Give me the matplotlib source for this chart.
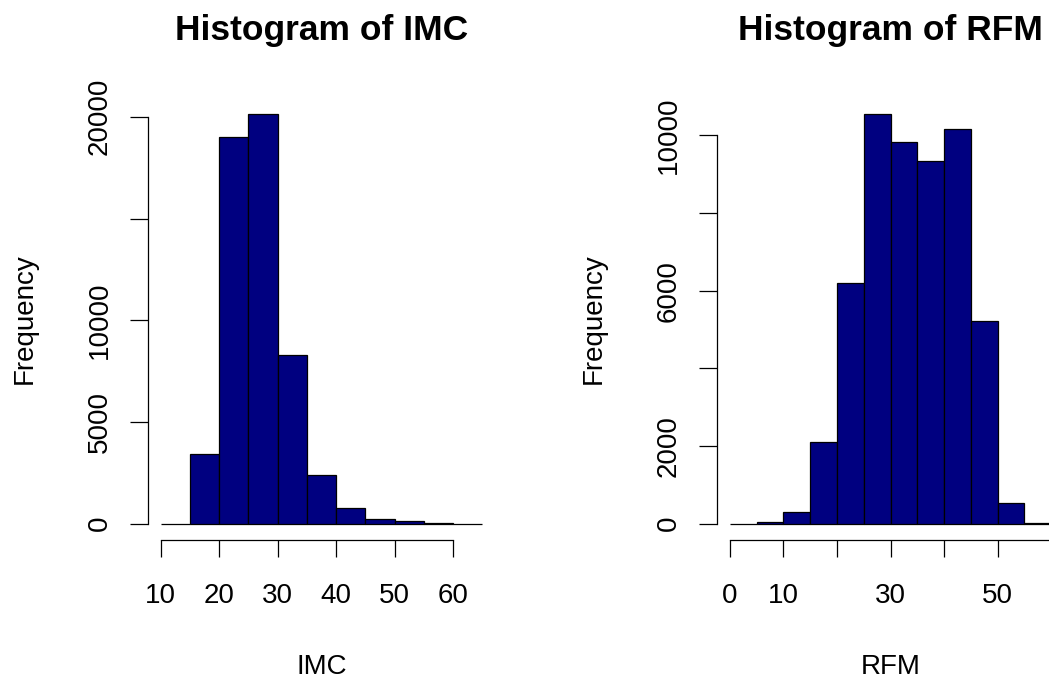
import matplotlib.pyplot as plt
import numpy as np

plt.rcParams['font.family'] = ['Liberation Sans', 'DejaVu Sans']

# histogram counts, bins of width 5
imc_start = 10
imc_counts = [0, 3410, 19000, 20120, 8280, 2410, 770, 210, 110, 20, 5]
imc_xticks = [10, 20, 30, 40, 50, 60]
imc_xlabels = ['10', '20', '30', '40', '50', '60']
imc_yticks = [0, 5000, 10000, 15000, 20000]
imc_ylabels = ['0', '5000', '10000', '', '20000']

rfm_start = 0
rfm_counts = [0, 50, 300, 2090, 6210, 10540, 9820, 9340, 10155, 5215, 540, 5]
rfm_xticks = [0, 10, 20, 30, 40, 50, 60]
rfm_xlabels = ['0', '10', '', '30', '', '50', '']
rfm_yticks = [0, 2000, 4000, 6000, 8000, 10000]
rfm_ylabels = ['0', '2000', '', '6000', '', '10000']

binw = 5
W, H = 1049, 680

fig = plt.figure(figsize=(W / 100, H / 100), dpi=100)


def r_hist(left_px, start, counts, xticks, xlabels, yticks, ylabels, name):
    ax = fig.add_axes([left_px / W, 140 / H, 347 / W, 442 / H])
    counts = np.array(counts)
    lefts = start + binw * np.arange(len(counts))
    ax.bar(lefts, counts, width=binw, align='edge', color='#000080',
           edgecolor='black', linewidth=0.9)
    x0, x1 = start, start + binw * len(counts)
    px = 0.04 * (x1 - x0)
    ax.set_xlim(x0 - px, x1 + px)
    top = counts.max()
    ax.set_ylim(-0.04 * top, 1.04 * top)

    for s in ['top', 'right']:
        ax.spines[s].set_visible(False)
    for s in ['left', 'bottom']:
        ax.spines[s].set_linewidth(0.9)
    ax.spines['bottom'].set_bounds(xticks[0], xticks[-1])
    ax.spines['left'].set_bounds(yticks[0], yticks[-1])

    ax.set_xticks(xticks)
    ax.set_xticklabels(xlabels)
    ax.set_yticks(yticks)
    ax.set_yticklabels(ylabels)
    ax.tick_params(axis='x', length=12.5, width=0.9, pad=33, labelsize=20)
    ax.tick_params(axis='y', length=13, width=0.9, pad=16.5, labelsize=20)
    for lab in ax.get_xticklabels():
        lab.set_va('baseline')
    for lab in ax.get_yticklabels():
        lab.set_rotation(90)
        lab.set_rotation_mode('anchor')
        lab.set_ha('center')
        lab.set_va('baseline')

    ax.set_title('Histogram of ' + name, fontsize=25.5, fontweight='bold',
                 y=(640 - 140) / 442, va='baseline', pad=0)
    ax.text(0.5, (6 - 140) / 442, name, transform=ax.transAxes,
            ha='center', va='baseline', fontsize=20)
    ax.text(-116 / 347, 0.5, 'Frequency', transform=ax.transAxes,
            rotation=90, rotation_mode='anchor', ha='center', va='baseline',
            fontsize=20)
    return ax


r_hist(148, imc_start, imc_counts, imc_xticks, imc_xlabels,
       imc_yticks, imc_ylabels, 'IMC')
r_hist(717, rfm_start, rfm_counts, rfm_xticks, rfm_xlabels,
       rfm_yticks, rfm_ylabels, 'RFM')

fig.savefig('out.png', dpi=100)
